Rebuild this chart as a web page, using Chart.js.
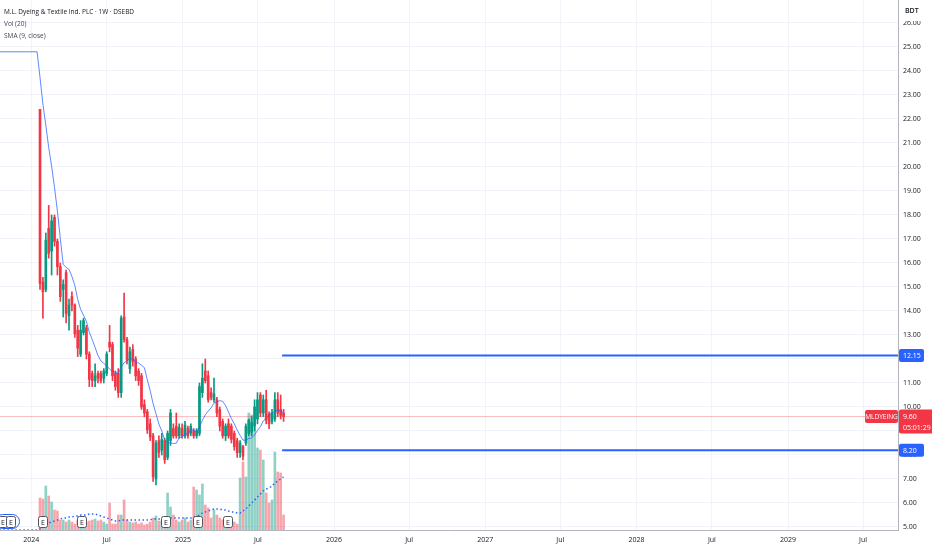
<!DOCTYPE html>
<html lang="en">
<head>
<meta charset="UTF-8">
<title>M.L. Dyeing &amp; Textile Ind. PLC · 1W · DSEBD</title>
<script src="https://cdn.jsdelivr.net/npm/chart.js@4.4.1/dist/chart.umd.min.js"></script>
<style>
  html, body { margin: 0; padding: 0; background: #fff; }
  #wrap { width: 932px; height: 550px; }
</style>
</head>
<body>
<div id="wrap"><canvas id="chart" width="932" height="550"></canvas></div>
<script>
// weekly bars, x = weeks since 1 Jan 2024
const weeks = [3,4,5,6,7,8,9,10,11,12,13,14,15,16,17,18,19,20,21,22,23,24,25,26,27,28,29,30,
  31,32,33,34,35,36,37,38,39,40,41,42,43,44,45,46,47,48,49,50,51,52,53,54,55,56,57,58,59,60,
  61,62,63,64,65,66,67,68,69,70,71,72,73,74,75,76,77,78,79,80,81,82,83,84,85,86,87];

const opens = [22.4,15.2,14.9,17.45,16.5,17.9,16.9,15.85,14.9,15.6,13.8,14.6,14.25,13.2,12.2,13.1,13.3,12.2,11.4,11.1,
  11.4,11.4,11.2,11.4,12.7,12.6,11.4,11.4,10.6,13.75,12.8,11.6,12.4,12.0,11.5,11.3,10.1,9.8,9.3,8.8,
  7.0,8.6,8.2,8.6,7.9,8.6,9.1,9.2,8.8,9.1,8.8,9.1,8.9,9.0,8.8,8.9,10.6,11.5,11.3,10.6,
  10.3,10.3,9.9,9.4,8.8,9.3,9.2,8.9,8.6,8.1,8.35,8.5,8.9,8.95,9.2,9.5,10.5,9.75,10.3,9.7,
  9.4,9.5,10.3,9.9,9.75];
const highs = [22.4,15.4,17.25,18.4,18.0,18.0,17.0,16.0,15.3,15.7,14.5,14.8,14.3,13.4,13.6,13.7,13.4,12.3,11.5,11.8,
  11.5,11.5,11.6,12.3,13.4,12.7,11.5,11.6,13.8,14.75,12.9,12.5,12.6,12.1,11.6,11.4,10.3,9.9,9.5,8.9,
  8.6,8.8,8.9,8.7,9.0,9.9,9.3,9.75,9.3,9.3,9.4,9.2,9.3,9.1,9.1,11.0,11.8,12.0,11.5,10.8,
  11.2,10.4,10.0,9.5,9.3,9.5,9.3,9.0,8.7,8.6,8.4,9.3,9.5,9.6,10.3,10.6,10.6,10.5,10.7,9.8,
  9.9,10.6,10.6,10.5,9.9];
const lows = [14.9,13.7,14.8,16.2,15.5,16.7,15.5,14.4,13.75,13.5,13.2,14.0,12.9,12.1,12.1,13.0,12.0,10.85,10.85,10.85,
  11.0,11.0,11.0,11.3,12.3,11.1,10.7,10.4,10.4,12.7,11.8,11.4,11.7,11.1,10.9,9.9,9.6,8.9,8.6,6.9,
  6.75,7.9,8.0,7.65,7.8,8.4,8.7,8.7,8.7,8.7,8.7,8.7,8.8,8.7,8.7,8.8,10.4,11.0,10.2,10.3,
  10.2,9.6,9.0,8.7,8.6,8.7,8.5,8.2,7.9,7.9,7.8,8.4,8.8,8.8,9.0,9.3,9.6,9.6,9.3,9.1,
  9.3,9.4,9.6,9.5,9.4];
const closes = [15.15,14.8,16.95,16.4,17.75,16.9,15.85,14.6,15.1,13.9,14.25,14.25,13.05,12.45,13.2,13.6,12.2,11.15,11.1,11.3,
  11.2,11.1,11.5,12.2,12.5,11.3,10.85,10.6,13.7,12.8,11.95,12.3,11.9,11.3,11.1,10.0,9.75,9.05,8.75,7.1,
  8.5,8.1,8.65,7.8,8.9,9.75,8.8,8.8,9.15,8.8,9.25,8.8,9.2,8.8,9.0,10.85,11.2,11.1,10.3,10.4,
  10.55,9.75,9.2,8.8,9.2,8.8,8.65,8.35,8.1,8.5,7.95,9.2,9.45,9.35,10.0,10.3,9.75,10.3,9.45,9.3,
  9.75,10.3,9.75,9.65,9.6];

// volume in thousand shares
const volumes = [32,31,44,34,28,20,19,10,10,8,10,8,6,10,7,7,8,9,10,11,
  9,10,8,6,27,6,6,15,15,30,10,8,7,8,6,7,5,6,8,12,
  14,9,9,12,37,23,15,10,8,10,12,8,10,43,40,35,46,25,22,12,
  20,15,12,10,12,8,10,8,6,52,68,53,117,115,103,82,80,70,37,27,
  30,78,58,57,15];

// SMA (9, close), including the flat stretch before the first bar
const smaWeeks = [-11, 2].concat(weeks);
const smaValues = [24.8,24.8,
  23.73,22.62,21.74,20.81,20.03,19.15,18.16,17.02,15.94,15.81,15.74,15.44,15.07,14.48,14.07,13.82,13.56,13.12,12.81,12.48,
  12.14,11.92,11.82,11.71,11.58,11.48,11.45,11.39,11.66,11.84,11.93,12.02,11.99,11.86,11.83,11.74,11.64,11.13,10.68,10.14,
  9.72,9.29,9.0,8.63,8.51,8.51,8.48,8.49,8.72,8.75,8.88,8.89,9.05,9.04,8.96,9.18,9.45,9.67,9.83,9.96,
  10.16,10.22,10.26,10.24,10.06,9.79,9.52,9.30,9.04,8.82,8.62,8.62,8.69,8.71,8.84,9.02,9.18,9.42,9.53,9.68,
  9.74,9.83,9.88,9.84,9.76];

// Vol (20) moving average
const volMaWeeks = [-11, 2].concat(weeks);
const volMaValues = [0,0,
  1,3,5,7,8,9,10,11,12,12,13,13,14,14,15,15,15,16,16,16,
  15,14,13,12,11,10,9,9,10,10,10,10,10,10,10,10,10,10,10,11,
  11,11,12,12,12,12,12,12,12,12,12,12,12,13,14,15,17,18,19,20,
  21,21,21,20,20,19,18,18,17,17,19,21,24,27,30,33,36,39,41,42,44,47,49,51,53];

const earningsWeeks = [-9.8, -7, 4, 17.5, 46.5, 57.5, 68];

const levels = [12.15, 8.20];
const levelStartWeek = 86.5;
const lastPrice = 9.60;
const countdown = '05:01:29';
const symbol = 'MLDYEING';

const tickWeeks = [0, 26, 52.29, 78.14, 104.43, 130.29, 156.57, 182.43, 208.71, 234.71, 261, 286.86];
const tickLabels = ['2024', 'Jul', '2025', 'Jul', '2026', 'Jul', '2027', 'Jul', '2028', 'Jul', '2029', 'Jul'];
const priceTicks = [5,6,7,8,9,10,11,12,13,14,15,16,17,18,19,20,21,22,23,24,25,26];

const xMin = -10.8, xMax = 298.9;
const yMin = 4.875, yMax = 26.958;

const UP = '#089981', DOWN = '#f23645', BLUE = '#2962ff';
const FONT = '"Open Sans", "Noto Sans", sans-serif';

const isUp = closes.map((c, i) => c >= opens[i]);
const candleColors = isUp.map(u => u ? UP : DOWN);
const volColors = isUp.map(u => u ? 'rgba(8,153,129,0.45)' : 'rgba(242,54,69,0.45)');

function rrect(ctx, x, y, w, h, r) {
  ctx.beginPath();
  ctx.moveTo(x + r, y);
  ctx.arcTo(x + w, y, x + w, y + h, r);
  ctx.arcTo(x + w, y + h, x, y + h, r);
  ctx.arcTo(x, y + h, x, y, r);
  ctx.arcTo(x, y, x + w, y, r);
  ctx.closePath();
}

const overlay = {
  id: 'overlay',
  afterDatasetsDraw(chart) {
    const { ctx } = chart;
    const x = chart.scales.x;
    ctx.save();
    // earnings markers
    const g0 = x.getPixelForValue(earningsWeeks[0]) - 8;
    const g1 = x.getPixelForValue(earningsWeeks[1]) + 8;
    ctx.strokeStyle = BLUE;
    ctx.lineWidth = 1;
    rrect(ctx, g0 + 0.5, 514.5, g1 - g0, 14, 7);
    ctx.stroke();
    earningsWeeks.forEach(w => {
      const px = Math.round(x.getPixelForValue(w));
      ctx.fillStyle = '#fff';
      ctx.strokeStyle = '#50535e';
      rrect(ctx, px - 4.5, 516.5, 9, 11, 2);
      ctx.fill();
      ctx.stroke();
      ctx.fillStyle = '#131722';
      ctx.font = '7px ' + FONT;
      ctx.textAlign = 'center';
      ctx.textBaseline = 'middle';
      ctx.fillText('E', px, 522.5);
    });
    ctx.restore();
  },
  afterDraw(chart) {
    const { ctx } = chart;
    const y = chart.scales.y;
    const ax = chart.chartArea.right;
    ctx.save();
    ctx.textBaseline = 'middle';
    ctx.textAlign = 'left';
    ctx.font = '7px ' + FONT;

    levels.forEach(v => {
      const py = y.getPixelForValue(v);
      ctx.fillStyle = BLUE;
      rrect(ctx, ax + 1, py - 6.5, 25, 13, 2);
      ctx.fill();
      ctx.fillStyle = '#fff';
      ctx.fillText(v.toFixed(2), ax + 5, py + 0.5);
    });

    const pp = y.getPixelForValue(lastPrice);
    ctx.fillStyle = DOWN;
    rrect(ctx, ax + 1, pp - 7, 40, 24, 2);
    ctx.fill();
    ctx.fillStyle = '#fff';
    ctx.fillText(lastPrice.toFixed(2), ax + 5, pp);
    ctx.fillText(countdown, ax + 5, pp + 11);

    ctx.fillStyle = DOWN;
    rrect(ctx, ax - 33, pp - 6.5, 33, 13, 2);
    ctx.fill();
    ctx.fillStyle = '#fff';
    ctx.textAlign = 'center';
    ctx.font = '6.5px ' + FONT;
    ctx.fillText(symbol, ax - 16.5, pp + 0.5);

    // currency box
    ctx.fillStyle = '#fff';
    ctx.fillRect(ax + 1, 0, chart.width - ax - 1, 21);
    ctx.fillStyle = '#131722';
    ctx.textAlign = 'left';
    ctx.font = '600 7px ' + FONT;
    ctx.fillText('BDT', ax + 7, 11);

    // legend
    ctx.font = '6.5px ' + FONT;
    ctx.fillStyle = '#131722';
    ctx.fillText('M.L. Dyeing & Textile Ind. PLC · 1W · DSEBD', 4, 12);
    ctx.fillStyle = '#434651';
    ctx.fillText('Vol (20)', 4, 24);
    ctx.fillText('SMA (9, close)', 4, 36);
    ctx.restore();
  }
};

new Chart(document.getElementById('chart'), {
  type: 'bar',
  data: {
    datasets: [
      {
        type: 'bar', label: 'Vol', yAxisID: 'yv', order: 6, grouped: false,
        data: weeks.map((w, i) => ({ x: w, y: volumes[i] })),
        backgroundColor: volColors, barThickness: 2, borderWidth: 0
      },
      {
        type: 'line', label: 'Vol MA', yAxisID: 'yv', order: 5,
        data: volMaWeeks.map((w, i) => ({ x: w, y: volMaValues[i] })),
        borderColor: BLUE, borderWidth: 1.5, borderDash: [1.5, 2.5],
        pointRadius: 0, tension: 0
      },
      {
        type: 'line', label: 'Last', order: 4,
        data: [{ x: xMin, y: lastPrice }, { x: xMax, y: lastPrice }],
        borderColor: 'rgba(242,54,69,0.35)', borderWidth: 1, pointRadius: 0
      },
      {
        type: 'bar', label: 'Wick', order: 3, grouped: false,
        data: weeks.map((w, i) => ({ x: w, y: [lows[i], highs[i]] })),
        backgroundColor: candleColors, barThickness: 1, borderWidth: 0
      },
      {
        type: 'bar', label: 'Body', order: 2, grouped: false,
        data: weeks.map((w, i) => ({ x: w, y: [opens[i], closes[i]] })),
        backgroundColor: candleColors, barThickness: 2, borderWidth: 0, minBarLength: 1
      },
      {
        type: 'line', label: 'SMA', order: 1,
        data: smaWeeks.map((w, i) => ({ x: w, y: smaValues[i] })),
        borderColor: 'rgba(41,98,255,0.75)', borderWidth: 1, pointRadius: 0, tension: 0
      },
      ...levels.map(v => ({
        type: 'line', label: 'Level ' + v, order: 0,
        data: [{ x: levelStartWeek, y: v }, { x: xMax, y: v }],
        borderColor: BLUE, borderWidth: 2, pointRadius: 0
      }))
    ]
  },
  options: {
    responsive: false,
    animation: false,
    devicePixelRatio: 1,
    layout: { padding: 0 },
    plugins: { legend: { display: false }, tooltip: { enabled: false } },
    scales: {
      x: {
        type: 'linear', min: xMin, max: xMax, offset: false,
        grid: { color: '#f2f4f9', drawTicks: false, offset: false },
        border: { color: '#b2b5be' },
        afterBuildTicks: s => { s.ticks = tickWeeks.map(v => ({ value: v })); },
        afterFit: s => { s.height = 20; s.paddingLeft = 0; s.paddingRight = 0; },
        ticks: {
          autoSkip: false, maxRotation: 0, padding: 6,
          color: '#131722', font: { family: FONT, size: 7 },
          callback: v => tickLabels[tickWeeks.indexOf(v)]
        }
      },
      y: {
        position: 'right', min: yMin, max: yMax,
        grid: { color: '#f0f3fa', drawTicks: false },
        border: { color: '#b2b5be' },
        afterBuildTicks: s => { s.ticks = priceTicks.map(v => ({ value: v })); },
        afterFit: s => { s.width = 34; s.paddingTop = 0; s.paddingBottom = 0; },
        ticks: {
          padding: 5, color: '#131722', font: { family: FONT, size: 7 },
          callback: v => Number(v).toFixed(2)
        }
      },
      yv: { display: false, min: 0, max: 530 }
    }
  },
  plugins: [overlay]
});
</script>
</body>
</html>
